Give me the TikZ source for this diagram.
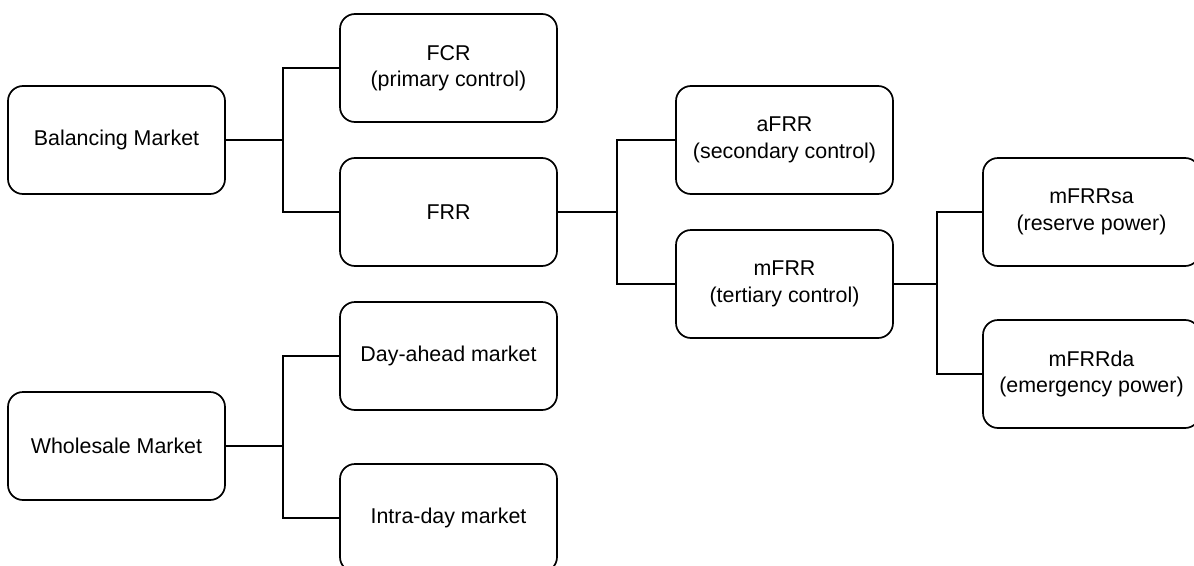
\documentclass[tikz,border=0pt]{standalone}
\usepackage{fontspec}
\setmainfont{Liberation Sans}
\begin{document}
\begin{tikzpicture}[x=1pt,y=-1pt,
  box/.style={draw=black, line width=1.7pt, rounded corners=15pt, fill=white,
    minimum width=217pt, minimum height=108pt, align=center, inner sep=0pt,
    font=\fontsize{21.4}{26.5}\selectfont},
  link/.style={draw=black, line width=1.7pt}]
\useasboundingbox (0,0) rectangle (1194,565);
\clip (0,0) rectangle (1194,565);

% boxes
\node[box] (bal)   at (116.5,140) {Balancing Market};
\node[box] (fcr)   at (448.5,68)  {FCR\\(primary control)};
\node[box] (frr)   at (448.5,212) {FRR};
\node[box] (afrr)  at (784.5,140) {aFRR\\(secondary control)};
\node[box] (mfrr)  at (784.5,284) {mFRR\\(tertiary control)};
\node[box] (mfrrsa) at (1091.5,212) {mFRRsa\\(reserve power)};
\node[box] (mfrrda) at (1091.5,374) {mFRRda\\(emergency power)};
\node[box] (dam)   at (448.5,356) {Day-ahead market};
\node[box] (whs)   at (116.5,446) {Wholesale Market};
\node[box] (idm)   at (448.5,518) {Intra-day market};

% junction points
\coordinate (j1) at (283,140);
\coordinate (j2) at (617,212);
\coordinate (j3) at (937,284);
\coordinate (j4) at (283,446);

% tree connectors
\draw[link] (bal.east) -- (j1);
\draw[link] (fcr.west) -| (j1) |- (frr.west);
\draw[link] (frr.east) -- (j2);
\draw[link] (afrr.west) -| (j2) |- (mfrr.west);
\draw[link] (mfrr.east) -- (j3);
\draw[link] (mfrrsa.west) -| (j3) |- (mfrrda.west);
\draw[link] (whs.east) -- (j4);
\draw[link] (dam.west) -| (j4) |- (idm.west);
\end{tikzpicture}
\end{document}
